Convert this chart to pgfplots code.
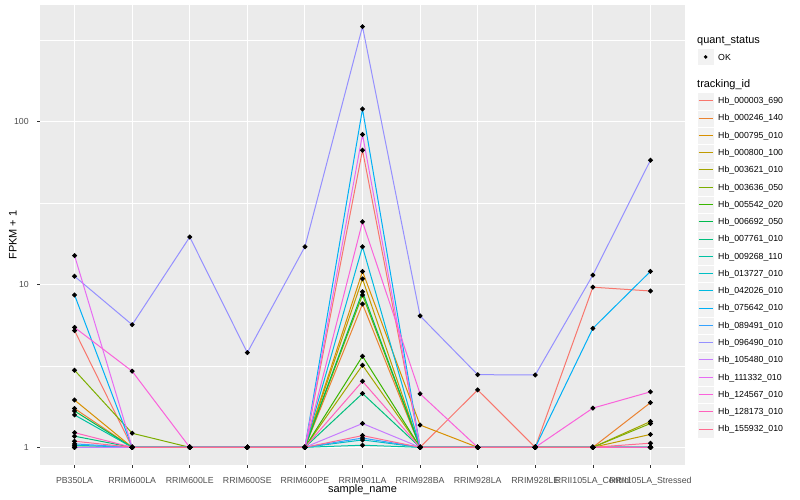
\documentclass[border=0pt]{standalone}
\usepackage{pgfplots}
\usepackage{pgfplotstable}
\usepackage{fontspec}
\setmainfont{Liberation Sans}
\pgfplotsset{compat=1.18}

\definecolor{ggpanel}{HTML}{EBEBEB}
\definecolor{keybg}{HTML}{F2F2F2}
\definecolor{gray30}{HTML}{4D4D4D}
\definecolor{gray20}{HTML}{333333}
\definecolor{c1}{HTML}{F8766D}
\definecolor{c2}{HTML}{EA8331}
\definecolor{c3}{HTML}{D89000}
\definecolor{c4}{HTML}{C09B00}
\definecolor{c5}{HTML}{A3A500}
\definecolor{c6}{HTML}{7CAE00}
\definecolor{c7}{HTML}{39B600}
\definecolor{c8}{HTML}{00BB4E}
\definecolor{c9}{HTML}{00BF7D}
\definecolor{c10}{HTML}{00C1A3}
\definecolor{c11}{HTML}{00BFC4}
\definecolor{c12}{HTML}{00BAE0}
\definecolor{c13}{HTML}{00B0F6}
\definecolor{c14}{HTML}{35A2FF}
\definecolor{c15}{HTML}{9590FF}
\definecolor{c16}{HTML}{C77CFF}
\definecolor{c17}{HTML}{E76BF3}
\definecolor{c18}{HTML}{FA62DB}
\definecolor{c19}{HTML}{FF62BC}
\definecolor{c20}{HTML}{FF6C91}

% FPKM + 1 per sample (rows) and gene (columns s1..s20)
\pgfplotstableread{
x  s1   s2   s3   s4   s5   s6   s7   s8   s9   s10  s11  s12  s13  s14  s15  s16  s17  s18  s19  s20
0  5.2  1.73 1.95 1    1    2.97 1    1.67 1.17 1.58 1.03 1    8.6  1.05 11.2 1    15.0 5.44 1.23 1.09
1  1    1    1    1    1    1.22 1    1    1    1    1    1    1    1    5.65 1    1    2.93 1    1
2  1    1    1    1    1    1    1    1    1    1    1    1    1    1    19.5 1    1    1    1    1
3  1    1    1    1    1    1    1    1    1    1    1    1    1    1    3.81 1    1    1    1    1
4  1    1    1    1    1    1    1    1    1    1    1    1    1    1    17.0 1    1    1    1    1
5  66.5 7.57 12.0 10.8 3.19 8.6  3.62 9.0  2.14 1.03 1.11 17.0 119  1.14 381  1.40 83   24.2 2.54 1.18
6  1    1    1.37 1    1    1    1    1    1    1    1    1    1    1    6.4  1    1    2.13 1    1
7  2.25 1    1    1    1    1    1    1    1    1    1    1    1    1    2.79 1    1    1    1    1
8  1    1    1    1    1    1    1    1    1    1    1    1    1    1    2.78 1    1    1    1    1
9  9.6  1    1    1    1    1    1    1    1    1    1    1    5.37 1    11.4 1    1    1.74 1    1
10 9.1  1.88 1    1.20 1.44 1.40 1    1    1    1    1    1    12.0 1    57.7 1    1    2.19 1    1.06
}\data

\begin{document}
\begin{tikzpicture}
\begin{axis}[
  name=main,
  scale only axis,
  width=645bp, height=460bp,
  ymode=log,
  xmin=-0.6, xmax=10.6,
  ymin=0.779, ymax=517,
  xtick={0,...,10},
  xticklabels={PB350LA,RRIM600LA,RRIM600LE,RRIM600SE,RRIM600PE,RRIM901LA,RRIM928BA,RRIM928LA,RRIM928LE,RRII105LA\_Control,RRII105LA\_Stressed},
  ytick={1,10,100},
  yticklabels={1,10,100},
  extra y ticks={3.1623,31.623,316.23},
  extra y tick labels={},
  extra y tick style={major tick length=0pt, grid=major, major grid style={white, line width=0.6bp}},
  xminorticks=false, yminorticks=false,
  /pgf/number format/assume math mode=true,
  axis background/.style={fill=ggpanel},
  axis line style={draw=none},
  grid=major,
  major grid style={white, line width=1.1bp},
  tick align=outside,
  xtick pos=bottom, ytick pos=left,
  major tick length=2.75bp,
  tick style={gray20, line width=0.6bp},
  ticklabel style={font=\fontsize{8.8}{10}\selectfont, text=gray30},
  xticklabel style={anchor=north, inner sep=0pt, yshift=-9bp},
  yticklabel style={anchor=east, inner sep=0pt, xshift=-8.3bp},
  xlabel={sample\_name},
  ylabel={FPKM + 1},
  label style={font=\fontsize{11}{13}\selectfont},
  xlabel style={at={(axis description cs:0.5,-0.053)}, anchor=center, inner sep=0pt},
  ylabel style={at={(axis description cs:-0.0419,0.5)}, anchor=center, inner sep=0pt},
  every axis plot/.append style={line width=1bp},
]
\addplot[c1]  table[x=x, y=s1]  {\data};
\addplot[c2]  table[x=x, y=s2]  {\data};
\addplot[c3]  table[x=x, y=s3]  {\data};
\addplot[c4]  table[x=x, y=s4]  {\data};
\addplot[c5]  table[x=x, y=s5]  {\data};
\addplot[c6]  table[x=x, y=s6]  {\data};
\addplot[c7]  table[x=x, y=s7]  {\data};
\addplot[c8]  table[x=x, y=s8]  {\data};
\addplot[c9]  table[x=x, y=s9]  {\data};
\addplot[c10] table[x=x, y=s10] {\data};
\addplot[c11] table[x=x, y=s11] {\data};
\addplot[c12] table[x=x, y=s12] {\data};
\addplot[c13] table[x=x, y=s13] {\data};
\addplot[c14] table[x=x, y=s14] {\data};
\addplot[c15] table[x=x, y=s15] {\data};
\addplot[c16] table[x=x, y=s16] {\data};
\addplot[c17] table[x=x, y=s17] {\data};
\addplot[c18] table[x=x, y=s18] {\data};
\addplot[c19] table[x=x, y=s19] {\data};
\addplot[c20] table[x=x, y=s20] {\data};

% points on top of all lines
\pgfplotsinvokeforeach{1,...,20}{
  \addplot[only marks, mark=*, mark size=1.9bp, black] table[x=x, y=s#1] {\data};
}
\end{axis}

% legend, ggplot style (keys 17.28bp tall, lines snapped to pixel rows)
\begin{scope}[shift={(main.south west)}]
  \node[anchor=west, inner sep=0pt, font=\fontsize{11}{13}\selectfont] at (657bp,424bp) {quant\_status};
  \fill[keybg, draw=white, line width=0.5bp] (657bp,399.36bp) rectangle (674.28bp,416.64bp);
  \fill[black] (665.64bp,408bp) circle (1.9bp);
  \node[anchor=west, inner sep=0pt, font=\fontsize{8.8}{10}\selectfont] at (678bp,408bp) {OK};
  \node[anchor=west, inner sep=0pt, font=\fontsize{11}{13}\selectfont] at (657bp,380bp) {tracking\_id};
  \foreach \i/\name in {1/Hb\_000003\_690,2/Hb\_000246\_140,3/Hb\_000795\_010,4/Hb\_000800\_100,
      5/Hb\_003621\_010,6/Hb\_003636\_050,7/Hb\_005542\_020,8/Hb\_006692\_050,9/Hb\_007761\_010,
      10/Hb\_009268\_110,11/Hb\_013727\_010,12/Hb\_042026\_010,13/Hb\_075642\_010,14/Hb\_089491\_010,
      15/Hb\_096490\_010,16/Hb\_105480\_010,17/Hb\_111332\_010,18/Hb\_124567\_010,19/Hb\_128173\_010,
      20/Hb\_155932\_010}{
    \pgfmathsetmacro\yc{363.7-17.28*(\i-1)}
    \pgfmathsetmacro\yy{round(\yc)+0.5}
    \fill[keybg, draw=white, line width=0.5bp] (657bp,\yc bp-8.64bp) rectangle (674.28bp,\yc bp+8.64bp);
    \draw[color=c\i, line width=1.5bp] (658.7bp,\yy bp) -- (672.6bp,\yy bp);
    \node[anchor=west, inner sep=0pt, font=\fontsize{8.8}{10}\selectfont] at (678bp,\yc bp) {\name};
  }
\end{scope}

\pgfresetboundingbox
\path (main.south west) ++(-40bp,-35bp) rectangle ([shift={(115bp,5bp)}]main.north east);
\end{tikzpicture}
\end{document}
